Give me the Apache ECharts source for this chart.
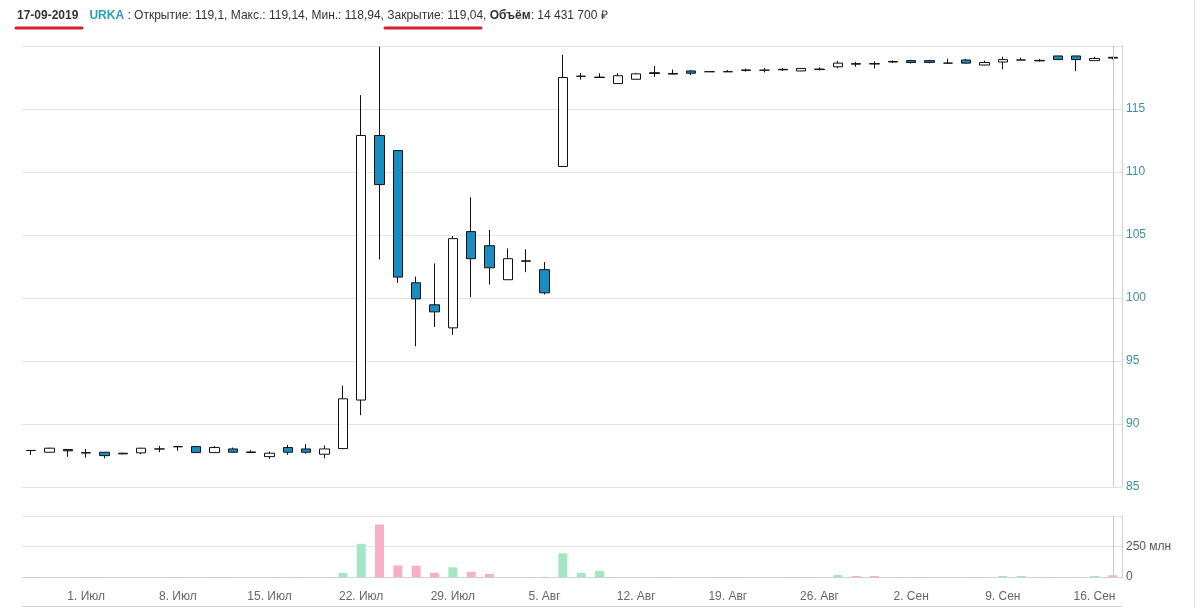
<!DOCTYPE html>
<html>
<head>
<meta charset="utf-8">
<script src="https://cdn.jsdelivr.net/npm/echarts@6/dist/echarts.min.js"></script>
<style>
  html, body { margin: 0; padding: 0; background: #fff; }
  #chart { width: 1199px; height: 608px; }
</style>
</head>
<body>
<div id="chart"></div>
<script>
// trading days, 26 Jun - 17 Sep 2019
const dates = [
  "2019-06-26", "2019-06-27", "2019-06-28",
  "2019-07-01", "2019-07-02", "2019-07-03", "2019-07-04", "2019-07-05",
  "2019-07-08", "2019-07-09", "2019-07-10", "2019-07-11", "2019-07-12",
  "2019-07-15", "2019-07-16", "2019-07-17", "2019-07-18", "2019-07-19",
  "2019-07-22", "2019-07-23", "2019-07-24", "2019-07-25", "2019-07-26",
  "2019-07-29", "2019-07-30", "2019-07-31", "2019-08-01", "2019-08-02",
  "2019-08-05", "2019-08-06", "2019-08-07", "2019-08-08", "2019-08-09",
  "2019-08-12", "2019-08-13", "2019-08-14", "2019-08-15", "2019-08-16",
  "2019-08-19", "2019-08-20", "2019-08-21", "2019-08-22", "2019-08-23",
  "2019-08-26", "2019-08-27", "2019-08-28", "2019-08-29", "2019-08-30",
  "2019-09-02", "2019-09-03", "2019-09-04", "2019-09-05", "2019-09-06",
  "2019-09-09", "2019-09-10", "2019-09-11", "2019-09-12", "2019-09-13",
  "2019-09-16", "2019-09-17"
];

const openPrices = [
  87.90, 87.76, 87.97,
  87.72, 87.76, 87.68, 87.71, 88.02,
  88.20, 88.21, 87.73, 88.02, 87.78,
  87.41, 88.13, 88.02, 87.60, 88.05,
  91.90, 112.90, 111.70, 101.21, 99.46,
  97.63, 105.27, 104.15, 101.45, 102.95,
  102.25, 110.44, 117.60, 117.50, 117.02,
  117.36, 117.88, 117.82, 118.02, 117.96,
  117.96, 118.10, 118.08, 118.15, 118.02,
  118.17, 118.35, 118.60, 118.60, 118.77,
  118.84, 118.84, 118.64, 118.89, 118.49,
  118.73, 118.89, 118.86, 119.21, 119.21,
  118.84, 119.10
];
const closePrices = [
  87.90, 88.08, 87.87,
  87.70, 87.49, 87.63, 88.08, 88.02,
  88.20, 87.73, 88.13, 87.76, 87.74,
  87.68, 87.76, 87.76, 88.02, 92.00,
  112.90, 109.00, 101.66, 99.93, 98.90,
  104.71, 103.12, 102.40, 103.12, 102.92,
  100.41, 117.50, 117.60, 117.53, 117.64,
  117.79, 117.82, 117.77, 117.84, 117.96,
  117.96, 118.06, 118.08, 118.11, 118.22,
  118.13, 118.64, 118.56, 118.57, 118.73,
  118.69, 118.70, 118.64, 118.64, 118.69,
  118.92, 118.89, 118.82, 118.92, 118.92,
  119.01, 119.04
];
const lowPrices = [
  87.55, 87.74, 87.40,
  87.33, 87.28, 87.60, 87.60, 87.76,
  87.87, 87.72, 87.72, 87.74, 87.72,
  87.23, 87.55, 87.65, 87.28, 88.00,
  90.70, 103.06, 101.20, 96.17, 97.70,
  97.07, 100.06, 101.07, 101.43, 102.05,
  100.28, 110.40, 117.33, 117.48, 117.00,
  117.35, 117.55, 117.75, 117.70, 117.95,
  117.95, 117.96, 117.90, 118.02, 118.00,
  118.05, 118.22, 118.35, 118.22, 118.66,
  118.60, 118.62, 118.63, 118.62, 118.48,
  118.15, 118.88, 118.76, 118.90, 118.00,
  118.82, 118.94
];
const highPrices = [
  87.92, 88.12, 88.00,
  88.02, 87.78, 87.72, 88.10, 88.26,
  88.23, 88.26, 88.26, 88.13, 87.92,
  87.81, 88.34, 88.40, 88.29, 93.05,
  116.10, 119.95, 111.72, 101.70, 102.75,
  104.92, 108.00, 105.40, 103.94, 103.86,
  102.85, 119.30, 117.85, 117.84, 117.84,
  117.86, 118.41, 118.13, 118.08, 117.97,
  118.10, 118.20, 118.25, 118.26, 118.24,
  118.30, 118.81, 118.75, 118.78, 118.86,
  118.90, 118.90, 119.00, 118.98, 118.84,
  119.15, 119.07, 118.98, 119.22, 119.22,
  119.15, 119.14
];
// volume, millions
const volumes = [
  0.3, 0.2, 0.4,
  0.3, 0.5, 0.2, 0.4, 0.2,
  0.3, 0.5, 0.3, 0.4, 0.2,
  0.3, 0.6, 0.5, 0.8, 34,
  272, 430, 95, 93, 34,
  79, 42, 25, 0.8, 0.6,
  0.9, 194, 34, 51, 0.8,
  0.6, 0.7, 0.4, 0.5, 0.3,
  0.3, 0.4, 0.3, 0.4, 0.5,
  0.6, 16, 8, 8, 0.6,
  0.5, 0.4, 0.4, 0.5, 0.6,
  8, 8, 0.6, 0.7, 0.8,
  8, 14.4
];

const tickDates = ["2019-07-01", "2019-07-08", "2019-07-15", "2019-07-22", "2019-07-29",
  "2019-08-05", "2019-08-12", "2019-08-19", "2019-08-26", "2019-09-02", "2019-09-09", "2019-09-16"];
const tickLabels = ["1. Июл", "8. Июл", "15. Июл", "22. Июл", "29. Июл",
  "5. Авг", "12. Авг", "19. Авг", "26. Авг", "2. Сен", "9. Сен", "16. Сен"];
const priceTicks = [85, 90, 95, 100, 105, 110, 115];

const candles = dates.map((d, i) => [openPrices[i], closePrices[i], lowPrices[i], highPrices[i]]);
const lastDate = dates[dates.length - 1];

const chart = echarts.init(document.getElementById("chart"));

const isTick = (index) => tickDates.indexOf(dates[index]) >= 0;

const option = {
  animation: false,
  backgroundColor: "#fff",
  title: {
    left: 17,
    top: 10,
    padding: 0,
    text: "{d|17-09-2019}{u|URKA}{n| : Открытие: 119,1, Макс.: 119,14, Мин.: 118,94, Закрытие: 119,04, }{b|Объём}{n|: 14 431 700 ₽}",
    textStyle: {
      fontWeight: "normal",
      rich: {
        d: { fontFamily: "Liberation Sans", fontSize: 12, fontWeight: "bold", color: "#333" },
        u: { fontFamily: "Liberation Sans", fontSize: 12, fontWeight: "bold", color: "#2b9db5", padding: [0, 0, 0, 11] },
        n: { fontFamily: "Liberation Sans", fontSize: 12, fontWeight: "normal", color: "#333" },
        b: { fontFamily: "Liberation Sans", fontSize: 12, fontWeight: "bold", color: "#333" }
      }
    }
  },
  grid: [
    { left: 22, right: 77, top: 46, height: 441 },
    { left: 22, right: 77, top: 516, height: 61 }
  ],
  xAxis: [
    {
      type: "category",
      gridIndex: 0,
      data: dates,
      boundaryGap: true,
      axisLine: { show: false },
      axisTick: { show: false },
      axisLabel: { show: false },
      splitLine: { show: false }
    },
    {
      type: "category",
      gridIndex: 1,
      data: dates,
      boundaryGap: true,
      offset: 6,
      axisLine: { lineStyle: { color: "#d0d0d0" } },
      axisTick: {
        alignWithLabel: true,
        interval: isTick,
        length: 8,
        lineStyle: { color: "#d0d0d0" }
      },
      axisLabel: {
        interval: isTick,
        margin: 8,
        color: "#666",
        fontFamily: "Liberation Sans",
        fontSize: 12,
        formatter: (v) => tickLabels[tickDates.indexOf(v)] || ""
      },
      splitLine: { show: false }
    }
  ],
  yAxis: [
    {
      type: "value",
      gridIndex: 0,
      position: "right",
      min: 85,
      max: 120,
      interval: 5,
      axisLine: { show: true, lineStyle: { color: "#d0d0d0" } },
      axisTick: { show: false },
      axisLabel: {
        margin: 4,
        color: "#3f8f99",
        fontFamily: "Liberation Sans",
        fontSize: 12,
        formatter: (v) => (priceTicks.indexOf(v) >= 0 ? String(v) : "")
      },
      splitLine: { lineStyle: { color: "#e4e4e4" } }
    },
    {
      type: "value",
      gridIndex: 1,
      position: "right",
      min: 0,
      max: 500,
      interval: 250,
      axisLine: { show: true, lineStyle: { color: "#d0d0d0" } },
      axisTick: { show: false },
      axisLabel: {
        margin: 4,
        color: "#555",
        fontFamily: "Liberation Sans",
        fontSize: 12,
        formatter: (v) => (v === 0 ? "0" : v === 250 ? "250 млн" : "")
      },
      splitLine: { lineStyle: { color: "#e4e4e4" } }
    }
  ],
  series: [
    {
      name: "URKA",
      type: "candlestick",
      xAxisIndex: 0,
      yAxisIndex: 0,
      data: candles,
      barWidth: 10,
      itemStyle: {
        color: "#ffffff",
        color0: "#1a8cc4",
        borderColor: "#111",
        borderColor0: "#111",
        borderWidth: 1
      },
      markLine: {
        silent: true,
        symbol: "none",
        label: { show: false },
        lineStyle: { color: "#c8c8c8", type: "solid", width: 1 },
        data: [{ xAxis: lastDate }]
      }
    },
    {
      name: "Объём",
      type: "bar",
      xAxisIndex: 1,
      yAxisIndex: 1,
      data: volumes,
      barWidth: 9,
      itemStyle: {
        color: (p) => (closePrices[p.dataIndex] >= openPrices[p.dataIndex] ? "#a4e6c2" : "#f6afc7")
      },
      markLine: {
        silent: true,
        symbol: "none",
        label: { show: false },
        lineStyle: { color: "#c8c8c8", type: "solid", width: 1 },
        data: [{ xAxis: lastDate }]
      }
    }
  ],
  graphic: [
    {
      type: "line",
      shape: { x1: 16, y1: 28, x2: 82, y2: 28 },
      style: { stroke: "#d3202c", lineWidth: 3, lineCap: "round" }
    },
    {
      type: "line",
      shape: { x1: 385, y1: 28, x2: 481, y2: 28 },
      style: { stroke: "#d3202c", lineWidth: 3, lineCap: "round" }
    },
    {
      type: "line",
      shape: { x1: 22, y1: 606.5, x2: 1122, y2: 606.5 },
      style: { stroke: "#d0d0d0", lineWidth: 1 }
    },
    {
      type: "line",
      shape: { x1: 1194.5, y1: 0, x2: 1194.5, y2: 608 },
      style: { stroke: "#dcdcdc", lineWidth: 1 }
    }
  ]
};

chart.setOption(option);
window.addEventListener("resize", () => chart.resize());
</script>
</body>
</html>
